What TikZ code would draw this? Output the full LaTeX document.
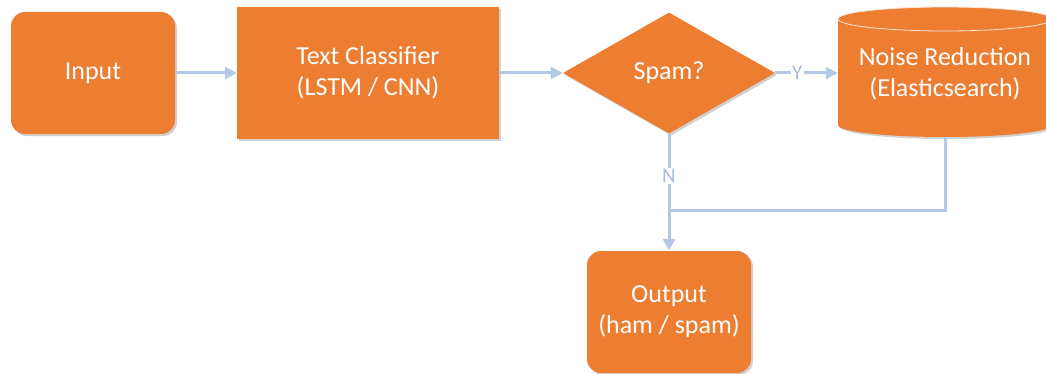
\documentclass[tikz,border=0pt]{standalone}
\usepackage{fontspec}
\setmainfont{Carlito}
\usetikzlibrary{shapes.geometric,arrows.meta,shadows}
\definecolor{boxorange}{HTML}{ED7D31}
\definecolor{linkblue}{HTML}{B4C7E7}
\definecolor{labelblue}{HTML}{A9BCD8}
\tikzset{
  boxtext/.style={text=white,align=center,font=\fontsize{26}{31}\selectfont},
  softshadow/.style={drop shadow={shadow xshift=2pt,shadow yshift=-2pt,opacity=0.18,fill=black}},
  roundbox/.style={boxtext,fill=boxorange,rounded corners=14pt,minimum width=164pt,minimum height=122pt,inner sep=0pt,softshadow},
  squarebox/.style={boxtext,fill=boxorange,minimum width=262pt,minimum height=132pt,inner sep=0pt,softshadow},
  decision/.style={boxtext,diamond,fill=boxorange,minimum width=212pt,minimum height=121pt,inner sep=0pt,softshadow},
  link/.style={draw=linkblue,line width=3pt},
  arrowlink/.style={link,-{Triangle[length=12pt,width=12pt]}},
  linklabel/.style={fill=white,text=labelblue,inner sep=1.5pt,font=\fontsize{21}{23}\selectfont}
}
\begin{document}
\begin{tikzpicture}[x=1pt,y=1pt]
\useasboundingbox (0,0) rectangle (1046,373);
% cylinder body
\fill[black,opacity=0.18] (840,352) -- (840,246) arc[start angle=180,end angle=360,x radius=107pt,y radius=12pt] -- (1054,352) -- cycle;
\fill[boxorange] (838,354) -- (838,248) arc[start angle=180,end angle=360,x radius=107pt,y radius=12pt] -- (1052,354) arc[start angle=0,end angle=180,x radius=107pt,y radius=12pt] -- cycle;
\draw[white!80!boxorange,line width=0.8pt] (945,354) ellipse[x radius=107pt,y radius=12pt];
\node[boxtext,minimum width=214pt,minimum height=130pt,inner sep=0pt] (cyl) at (945,299) {Noise Reduction\\(Elasticsearch)};

\node[roundbox] (in) at (93,300) {Input};
\node[squarebox] (tc) at (368,300) {Text Classifier\\(LSTM / CNN)};
\node[decision] (dia) at (669,300) {Spam?};
\node[roundbox] (out) at (669,61) {Output\\(ham / spam)};
\coordinate (j) at (669,163);

\draw[arrowlink] (in.east) -- (tc.west);
\draw[arrowlink] (tc.east) -- (dia.west);
\draw[arrowlink] (dia.east) -- node[linklabel,pos=0.35] {Y} (dia.east -| cyl.west);
\draw[arrowlink] (dia.south) -- node[linklabel,pos=0.36] {N} (out.north);
\draw[link] (cyl.south) ++(0,2) |- (j);
\end{tikzpicture}
\end{document}
